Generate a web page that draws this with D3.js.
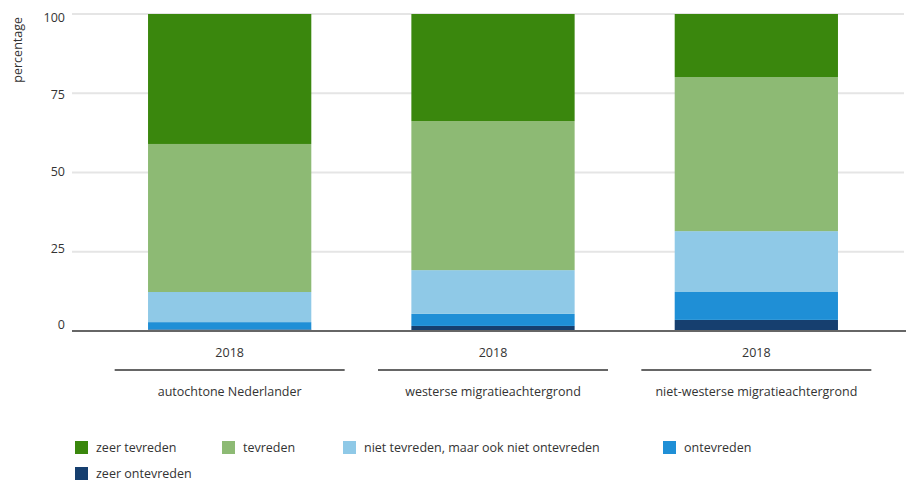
<!DOCTYPE html>
<html>
<head>
<meta charset="utf-8">
<script src="https://cdn.jsdelivr.net/npm/d3@7"></script>
<style>
  body { margin: 0; background: #fff; }
  text { font-family: "Open Sans", "Noto Sans", sans-serif; fill: #333; }
</style>
</head>
<body>
<div id="chart"></div>
<script>
// Categories, years and series
var groups = ["autochtone Nederlander", "westerse migratieachtergrond", "niet-westerse migratieachtergrond"];
var years = ["2018", "2018", "2018"];
var seriesNames = ["zeer ontevreden", "ontevreden", "niet tevreden, maar ook niet ontevreden", "tevreden", "zeer tevreden"];
var zeerOntevreden = [0.5, 1.6, 3.5];
var ontevreden = [2.3, 3.8, 8.8];
var nietNiet = [9.5, 13.8, 19.2];
var tevreden = [46.7, 47.0, 48.6];
var zeerTevreden = [41.0, 33.8, 19.9];
var yTicks = [0, 25, 50, 75, 100];

var colors = {
    "zeer tevreden": "#3a870d",
    "tevreden": "#8dba74",
    "niet tevreden, maar ook niet ontevreden": "#8fc9e7",
    "ontevreden": "#1f8fd6",
    "zeer ontevreden": "#163f6f"
};

var w = 906;
var h = 483;

// build rows for the stack
var rows = groups.map(function(g, i) {
    return {
        group: g,
        "zeer ontevreden": zeerOntevreden[i],
        "ontevreden": ontevreden[i],
        "niet tevreden, maar ook niet ontevreden": nietNiet[i],
        "tevreden": tevreden[i],
        "zeer tevreden": zeerTevreden[i]
    };
});

var stacked = d3.stack().keys(seriesNames)(rows);

var xScale = d3.scaleBand()
    .domain(groups)
    .range([98, 888])
    .paddingInner(0.38)
    .paddingOuter(0.19);

var yScale = d3.scaleLinear()
    .domain([0, 100])
    .range([331, 14]);

// tick labels sit a bit inside the plot, 0 above the baseline
var labelScale = d3.scaleLinear()
    .domain([0, 100])
    .range([325, 18]);

var svg = d3.select("#chart")
    .append("svg")
    .attr("width", w)
    .attr("height", h);

// gridlines
svg.append("g")
    .selectAll("line")
    .data(yTicks.filter(function(d) { return d > 0; }))
    .enter()
    .append("line")
    .attr("x1", 72)
    .attr("x2", 904)
    .attr("y1", function(d) { return yScale(d); })
    .attr("y2", function(d) { return yScale(d); })
    .attr("stroke", "#e5e5e5")
    .attr("stroke-width", 2);

// y tick labels
svg.append("g")
    .selectAll("text")
    .data(yTicks)
    .enter()
    .append("text")
    .attr("x", 65)
    .attr("y", function(d) { return labelScale(d); })
    .attr("dy", "0.35em")
    .attr("text-anchor", "end")
    .style("font-size", "12.5px")
    .text(function(d) { return d; });

svg.append("text")
    .attr("transform", "translate(22,17) rotate(-90)")
    .attr("text-anchor", "end")
    .style("font-size", "12.5px")
    .text("percentage");

// bars
svg.append("g")
    .selectAll("g")
    .data(stacked)
    .enter()
    .append("g")
    .attr("fill", function(d) { return colors[d.key]; })
    .selectAll("rect")
    .data(function(d) { return d; })
    .enter()
    .append("rect")
    .attr("x", function(d) { return xScale(d.data.group); })
    .attr("y", function(d) { return yScale(d[1]); })
    .attr("width", xScale.bandwidth())
    .attr("height", function(d) { return yScale(d[0]) - yScale(d[1]); });

// baseline
svg.append("line")
    .attr("x1", 72)
    .attr("x2", 906)
    .attr("y1", 331)
    .attr("y2", 331)
    .attr("stroke", "#666")
    .attr("stroke-width", 2);

// year labels
svg.append("g")
    .selectAll("text")
    .data(groups)
    .enter()
    .append("text")
    .attr("x", function(d) { return xScale(d) + xScale.bandwidth() / 2; })
    .attr("y", 357)
    .attr("text-anchor", "middle")
    .style("font-size", "12.5px")
    .text(function(d, i) { return years[i]; });

// group separator lines
svg.append("g")
    .selectAll("line")
    .data(groups)
    .enter()
    .append("line")
    .attr("x1", function(d) { return xScale(d) + xScale.bandwidth() / 2 - 115; })
    .attr("x2", function(d) { return xScale(d) + xScale.bandwidth() / 2 + 115; })
    .attr("y1", 370)
    .attr("y2", 370)
    .attr("stroke", "#666")
    .attr("stroke-width", 2);

// group labels
svg.append("g")
    .selectAll("text")
    .data(groups)
    .enter()
    .append("text")
    .attr("x", function(d) { return xScale(d) + xScale.bandwidth() / 2; })
    .attr("y", 396)
    .attr("text-anchor", "middle")
    .style("font-size", "12.5px")
    .text(function(d) { return d; });

// legend
var legendOrder = ["zeer tevreden", "tevreden", "niet tevreden, maar ook niet ontevreden", "ontevreden", "zeer ontevreden"];
var legendPos = [[75, 441], [222, 441], [343, 441], [663, 441], [75, 467]];

var legend = svg.append("g")
    .selectAll("g")
    .data(legendOrder)
    .enter()
    .append("g")
    .attr("transform", function(d, i) {
        return "translate(" + legendPos[i][0] + "," + legendPos[i][1] + ")";
    });

legend.append("rect")
    .attr("width", 13)
    .attr("height", 13)
    .attr("fill", function(d) { return colors[d]; });

legend.append("text")
    .attr("x", 21)
    .attr("y", 7)
    .attr("dy", "0.35em")
    .style("font-size", "12.5px")
    .text(function(d) { return d; });
</script>
</body>
</html>
